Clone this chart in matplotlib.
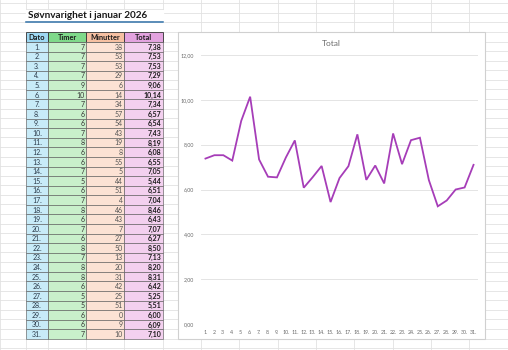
import matplotlib.pyplot as plt
from matplotlib.patches import Rectangle

plt.rcParams['font.family'] = ['Lato', 'DejaVu Sans']

# sleep log, January 2026
dato = [f"{d}." for d in range(1, 32)]
timer = [7, 7, 7, 7, 9, 10, 7, 6, 6, 7, 8, 6, 6, 7, 5, 6, 7, 8, 6, 7,
         6, 8, 7, 8, 8, 6, 5, 5, 6, 6, 7]
minutter = [38, 53, 53, 29, 6, 14, 34, 57, 54, 43, 19, 8, 55, 5, 44, 51, 4, 46, 43, 7,
            27, 50, 13, 20, 31, 42, 25, 51, 0, 9, 10]
total = [t + m / 100 for t, m in zip(timer, minutter)]

headers = ["Dato", "Timer", "Minutter", "Total"]
head_colors = ["#9ED8F2", "#7FD98A", "#F6C0A2", "#E3A3DF"]
cell_colors = ["#C8EBF8", "#C9F0CB", "#FCE2D4", "#F3D0EF"]

col_x = [0, 26, 48, 86, 124, 163, 201, 239, 278, 316, 354, 393, 431, 469, 508]
row_h = 9.58
top = 32

fig = plt.figure(figsize=(5.08, 3.5), dpi=100)
bg = fig.add_axes([0, 0, 1, 1])
bg.set_xlim(0, 508)
bg.set_ylim(350, 0)
bg.axis('off')

# sheet gridlines
for x in col_x:
    bg.plot([x, x], [0, 350], color='#E2E2E2', lw=0.6, zorder=0)
y = top - 3 * row_h
while y < 350:
    bg.plot([0, 508], [y, y], color='#E2E2E2', lw=0.6, zorder=0)
    y += row_h

# heading (merged cells)
bg.add_patch(Rectangle((26.4, 9.5), 136.2, top - 10, color='white', zorder=1))
bg.plot([26, 163], [9.2, 9.2], color='#E2E2E2', lw=0.6, zorder=1)
bg.text(28, 18, "Søvnvarighet i januar 2026", fontsize=7.2, fontweight='bold',
        color='#1a1a1a', va='baseline', zorder=2)
bg.plot([26, 163], [22.3, 22.3], color='#2E6DA4', lw=1.1, zorder=2)

# table
edges = col_x[1:6]
for c in range(4):
    x0, x1 = edges[c], edges[c + 1]
    bg.add_patch(Rectangle((x0, top), x1 - x0, row_h + 0.4, facecolor=head_colors[c],
                           edgecolor='#333333', lw=0.6, zorder=2))
    bg.text((x0 + x1) / 2, top + row_h / 2 + 0.5, headers[c], fontsize=5.3,
            fontweight='bold', ha='center', va='center', color='#1a1a1a', zorder=3)

for r in range(31):
    y0 = top + row_h + 0.4 + r * row_h
    vals = [dato[r], str(timer[r]), str(minutter[r]), f"{total[r]:.2f}".replace('.', ',')]
    for c in range(4):
        x0, x1 = edges[c], edges[c + 1]
        bg.add_patch(Rectangle((x0, y0), x1 - x0, row_h, facecolor=cell_colors[c],
                               edgecolor='#555555', lw=0.4, zorder=2))
        yc = y0 + row_h / 2 + 0.4
        if c == 0:
            bg.text((x0 + x1) / 2, yc, vals[c], fontsize=5, ha='center', va='center',
                    color='#2b3a4a', zorder=3)
        elif c == 3:
            bg.text(x1 - 1.5, yc, vals[c], fontsize=5, ha='right', va='center',
                    fontweight='bold', color='#1a1a1a', zorder=3)
        else:
            bg.text(x1 - 1.5, yc, vals[c], fontsize=5, ha='right', va='center',
                    color='#555555' if c == 2 else '#333333', zorder=3)

# chart frame
bg.add_patch(Rectangle((178, 32), 307, 307, facecolor='white', edgecolor='#D0D0D0',
                       lw=0.8, zorder=4))
bg.text(331.5, 43, "Total", fontsize=6, color='#6b6b6b', ha='center', va='center', zorder=5)

ax = fig.add_axes([201 / 508, 26 / 350, 277 / 508, 269 / 350], zorder=5)
ax.patch.set_alpha(0)
xs = range(len(dato))
ax.plot(xs, total, color='#A63DB8', lw=1.3, solid_joinstyle='miter')
ax.set_xlim(-0.5, len(dato) - 0.5)
ax.set_ylim(0, 12)
ax.set_yticks(range(0, 13, 2))
ax.set_yticklabels([f"{v:.2f}".replace('.', ',') for v in range(0, 13, 2)])
ax.set_xticks(list(xs))
ax.set_xticklabels(dato)
ax.tick_params(axis='both', length=0, labelsize=3.8, labelcolor='#6b6b6b')
ax.tick_params(axis='y', pad=5)
ax.tick_params(axis='x', pad=4)
ax.grid(axis='y', color='#E4E4E4', lw=0.7)
ax.set_axisbelow(True)
for s in ax.spines.values():
    s.set_visible(False)

fig.savefig('out.png', dpi=100)
